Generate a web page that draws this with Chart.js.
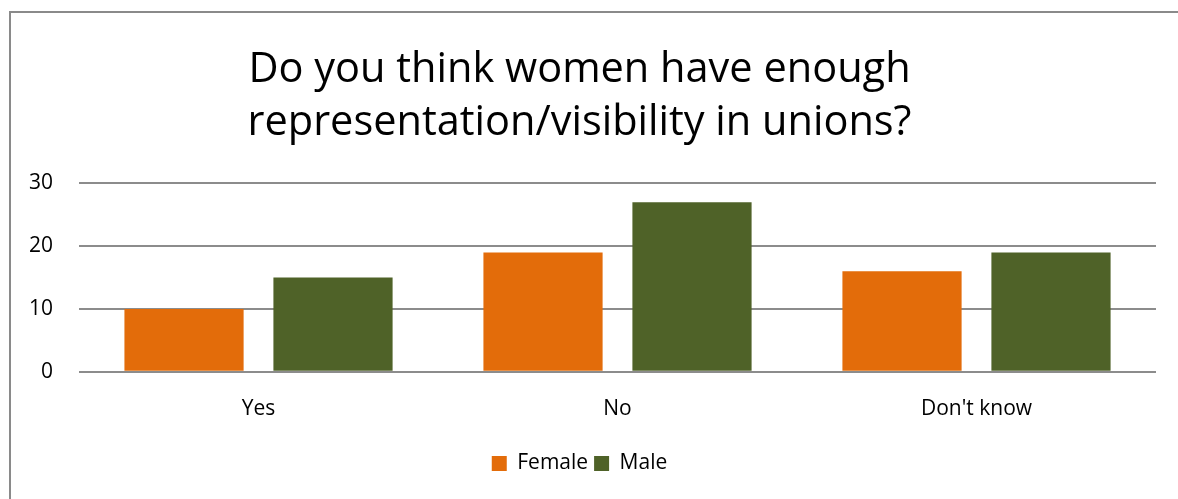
<!DOCTYPE html>
<html>
<head>
<meta charset="utf-8">
<script src="https://cdn.jsdelivr.net/npm/chart.js@4/dist/chart.umd.min.js"></script>
<style>
  html, body { margin: 0; padding: 0; background: #fff; }
  #wrap { position: relative; width: 1178px; height: 499px; overflow: hidden; }
  #frame { position: absolute; left: 9px; top: 11px; width: 1300px; height: 600px;
           border-left: 2px solid #8a8a8a; border-top: 2px solid #8a8a8a; }
  canvas { position: absolute; left: 0; top: 0; }
</style>
</head>
<body>
<div id="wrap">
  <div id="frame"></div>
  <canvas id="chart" width="1178" height="499"></canvas>
</div>
<script>
const categories = ["Yes", "No", "Don't know"];
const femaleValues = [10, 19, 16];
const maleValues = [15, 27, 19];
const yTicks = [0, 10, 20, 30];
const titleLines = ["Do you think women have enough", "representation/visibility in unions?"];

const FONT = "'Open Sans', sans-serif";

new Chart(document.getElementById("chart"), {
    type: 'bar',
    data: {
        labels: categories,
        datasets: [
            { label: 'Female', data: femaleValues, backgroundColor: '#e36c0a', borderWidth: 0 },
            { label: 'Male', data: maleValues, backgroundColor: '#4f6228', borderWidth: 0 }
        ]
    },
    options: {
        responsive: false,
        animation: false,
        layout: { padding: { left: 3, right: 22, top: 44, bottom: 15 } },
        datasets: { bar: { categoryPercentage: 0.83, barPercentage: 0.8 } },
        plugins: {
            title: {
                display: true,
                text: titleLines,
                color: '#000',
                font: { family: FONT, size: 41.5, weight: 'normal', lineHeight: 1.27 },
                padding: { top: 0, bottom: 34 }
            },
            legend: {
                position: 'bottom',
                labels: {
                    color: '#000',
                    font: { family: FONT, size: 21 },
                    boxWidth: 15, boxHeight: 15, padding: 6
                }
            },
            tooltip: { enabled: false }
        },
        scales: {
            x: {
                grid: { display: false, drawTicks: false },
                border: { display: false },
                ticks: { color: '#000', font: { family: FONT, size: 21 }, padding: 25 }
            },
            y: {
                min: 0, max: 30,
                afterBuildTicks: (axis) => { axis.ticks = yTicks.map(v => ({ value: v })); },
                grid: { color: '#8c8c8c', lineWidth: 2, drawTicks: false },
                border: { display: false },
                ticks: { color: '#000', font: { family: FONT, size: 21 }, padding: 26 }
            }
        }
    }
});
</script>
</body>
</html>
